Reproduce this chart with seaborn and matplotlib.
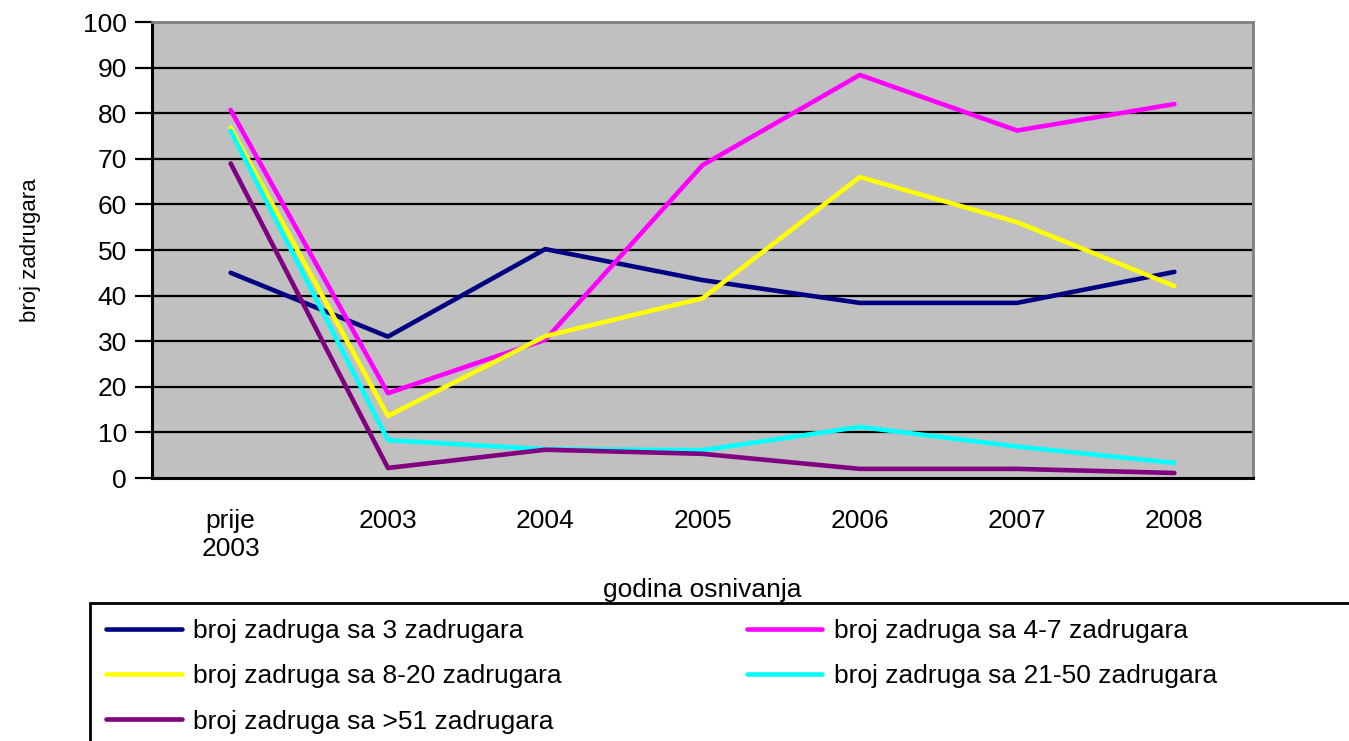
import numpy as np
import pandas as pd
import matplotlib
matplotlib.use("Agg")
import matplotlib.pyplot as plt
from matplotlib.patches import Rectangle
import seaborn as sns

categories = ["prije\n2003", "2003", "2004", "2005", "2006", "2007", "2008"]
s3 = [45.0, 31.0, 50.2, 43.4, 38.4, 38.4, 45.2]
s4_7 = [80.7, 18.6, 30.3, 68.6, 88.4, 76.2, 82.0]
s8_20 = [76.8, 13.6, 31.1, 39.4, 66.0, 56.1, 42.1]
s21_50 = [76.1, 8.3, 6.3, 6.1, 11.2, 6.9, 3.3]
s51 = [69.0, 2.2, 6.2, 5.3, 2.0, 2.0, 1.1]
series_names = ["broj zadruga sa 3 zadrugara", "broj zadruga sa 4-7 zadrugara",
                "broj zadruga sa 8-20 zadrugara", "broj zadruga sa 21-50 zadrugara",
                "broj zadruga sa >51 zadrugara"]
colors = ["#000080", "#FF00FF", "#FFFF00", "#00FFFF", "#800080"]
yticks = [0, 10, 20, 30, 40, 50, 60, 70, 80, 90, 100]

sns.set_style("white")
plt.rcParams["font.family"] = ["Liberation Sans", "DejaVu Sans"]
plt.rcParams["text.color"] = "black"
plt.rcParams["axes.labelcolor"] = "black"
plt.rcParams["xtick.color"] = "black"
plt.rcParams["ytick.color"] = "black"

rows = []
for name, vals in zip(series_names, [s3, s4_7, s8_20, s21_50, s51]):
    for i, v in enumerate(vals):
        rows.append({"pos": i, "value": v, "serija": name})
df = pd.DataFrame(rows)

W, H = 1349, 741
fig = plt.figure(figsize=(W / 100, H / 100), dpi=100)
ax = fig.add_axes([152 / W, 1 - 478 / H, (1253 - 152) / W, (478 - 22) / H])
ax.set_facecolor("#C0C0C0")

for yv in yticks[1:-1]:
    ax.axhline(yv, color="black", lw=1.6, zorder=1)

sns.lineplot(data=df, x="pos", y="value", hue="serija", palette=colors,
             hue_order=series_names, sort=False, lw=3.3, ax=ax, legend=False,
             zorder=3)

ax.set_xlim(-0.5, 6.5)
ax.set_ylim(0, 100)
ax.set_yticks(yticks)
ax.set_yticklabels([str(t) for t in yticks], fontsize=19)
ax.set_xticks(range(len(categories)))
ax.set_xticklabels(categories, fontsize=19, linespacing=1.25)
ax.set_xticks(np.arange(-0.5, 7, 1), minor=True)
ax.tick_params(axis="x", which="major", length=0, pad=22)
ax.tick_params(axis="x", which="minor", length=8, width=1.8, direction="out", color="black")
ax.tick_params(axis="y", length=12, width=1.6, direction="out", color="black", pad=6)
ax.yaxis.set_ticks_position("left")

for side in ["left", "bottom"]:
    ax.spines[side].set_color("black")
    ax.spines[side].set_linewidth(2.2)
for side in ["top", "right"]:
    ax.spines[side].set_color("#808080")
    ax.spines[side].set_linewidth(2)

ax.set_xlabel("godina osnivanja", fontsize=19, labelpad=12)
ax.set_ylabel("broj zadrugara", fontsize=16, labelpad=30)

# row-major legend order for 2 columns
order = [0, 2, 4, 1, 3]
handles = [plt.Line2D([], [], color=colors[i], lw=3.3) for i in order]
labels = [series_names[i] for i in order]
leg = fig.legend(handles, labels, loc="upper left", ncol=2,
                 bbox_to_anchor=(90 / W, 1 - 603 / H),
                 bbox_transform=fig.transFigure, fontsize=19, frameon=False,
                 handlelength=2.85, handletextpad=0.45, labelspacing=0.8,
                 borderpad=0.62, borderaxespad=0, columnspacing=7.0)

# legend frame, running past the right and bottom edges of the figure as in the reference
fig.patches.append(Rectangle((90 / W, -0.05), (1400 - 90) / W, (741 - 603) / H + 0.05,
                             transform=fig.transFigure, fill=False,
                             edgecolor="black", linewidth=2))

fig.savefig("out.png", dpi=100)
